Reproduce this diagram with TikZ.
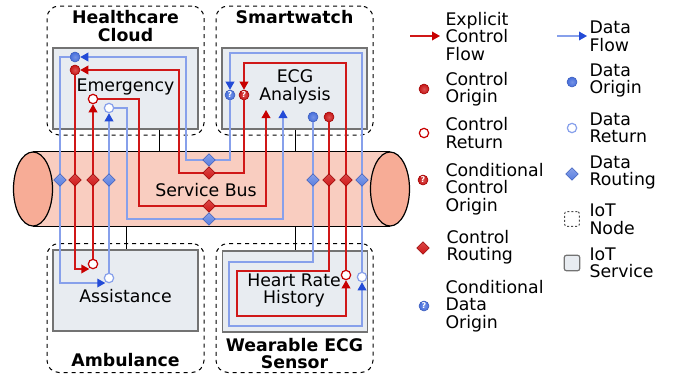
\documentclass[tikz,border=0pt]{standalone}
\usepackage{fontspec}
\setmainfont{DejaVu Sans}
\usetikzlibrary{arrows.meta,shapes.geometric}

\definecolor{ctrlRed}{RGB}{208,24,24}
\definecolor{ctrlTip}{RGB}{200,0,0}
\definecolor{dataBlue}{RGB}{135,160,235}
\definecolor{dataTip}{RGB}{35,75,215}
\definecolor{dataBall}{RGB}{70,110,220}
\definecolor{busBody}{RGB}{249,205,192}
\definecolor{busEnd}{RGB}{247,172,150}
\definecolor{svcFill}{RGB}{232,236,241}
\definecolor{svcDraw}{RGB}{115,115,115}

\tikzset{every picture/.style={line width=0.75pt}}
\tikzset{
  txt/.style={font=\fontsize{13}{13.1}\selectfont, align=center, inner sep=0pt},
  ttl/.style={txt, font=\fontsize{13}{13.1}\selectfont\bfseries},
  lgtxt/.style={txt, align=left, anchor=west},
  iotnode/.style={draw, dashed, rounded corners=9pt, minimum width=117.75pt, minimum height=96.75pt, inner sep=0pt},
  iotsvc/.style={draw=svcDraw, fill=svcFill, line width=1.1pt, minimum width=108.75pt, minimum height=60.75pt, inner sep=0pt},
  busbody/.style={fill=busBody, minimum width=267pt, minimum height=55.5pt, inner sep=0pt},
  busend/.style={draw=black, fill=busEnd, line width=0.9pt},
  ctrl/.style={draw=ctrlRed, line width=1.1pt},
  data/.style={draw=dataBlue, line width=1pt},
  ctrlarr/.style={ctrl, -{Triangle[length=6pt,width=6.5pt,color=ctrlTip]}},
  dataarr/.style={data, -{Triangle[length=6pt,width=6.5pt,color=dataTip]}},
  ctrlorig/.style={circle, inner sep=0pt, minimum size=7.5pt, inner color=ctrlRed!75!white, outer color=ctrlRed!95!black, draw=ctrlTip!80!black, line width=0.4pt},
  dataorig/.style={circle, inner sep=0pt, minimum size=7.5pt, inner color=dataBall!75!white, outer color=dataBall, draw=dataBall!85!black, line width=0.4pt},
  ctrlret/.style={circle, inner sep=0pt, minimum size=7pt, draw=ctrlTip, fill=white, line width=0.9pt},
  dataret/.style={circle, inner sep=0pt, minimum size=7pt, draw=dataBlue, fill=white, line width=0.9pt},
  ctrlcond/.style={ctrlorig, text=white, font=\fontsize{6}{6}\selectfont\bfseries},
  datacond/.style={dataorig, text=white, font=\fontsize{6}{6}\selectfont\bfseries},
  ctrlroute/.style={diamond, inner sep=0pt, minimum size=9.5pt, top color=ctrlRed!80!white, bottom color=ctrlRed, draw=ctrlTip!75!black, line width=0.4pt},
  dataroute/.style={diamond, inner sep=0pt, minimum size=9.5pt, top color=dataBall!65!white, bottom color=dataBall!90!white, draw=dataBall!85!black, line width=0.4pt}
}

\begin{document}
\begin{tikzpicture}[x=0.75pt,y=0.75pt,yscale=-1,xscale=1]
\useasboundingbox (0,0) rectangle (674,375);

%IoT nodes
\node[iotnode] (cloudNode) at (125.5,70.5) {};
\node[iotnode] (watchNode) at (294.5,70.5) {};
\node[iotnode] (ambulanceNode) at (125.5,308) {};
\node[iotnode] (sensorNode) at (294.5,308) {};
\node[ttl] (cloudTtl) at (125.5,26) {Healthcare\\Cloud};
\node[ttl] (watchTtl) at (294.5,17) {Smartwatch};
\node[ttl] (ambulanceTtl) at (125.5,360) {Ambulance};
\node[ttl] (sensorTtl) at (294.5,353.5) {Wearable ECG\\Sensor};

%IoT services
\node[iotsvc] (emergency) at (125.5,88.5) {};
\node[iotsvc] (ecg) at (294.5,88.5) {};
\node[iotsvc] (assistance) at (125.5,290.5) {};
\node[iotsvc] (heartRate) at (295,291.5) {};
\node[txt] (emergencyLbl) at (125.5,87) {Emergency};
\node[txt] (ecgLbl) at (295,87) {ECG\\Analysis};
\node[txt] (assistanceLbl) at (125.5,296) {Assistance};
\node[txt] (heartRateLbl) at (294,290.5) {Heart Rate\\History};

%Service bus
\node[busbody] (bus) at (211.5,189) {};
\draw (bus.north west) -- (bus.north east);
\draw (bus.south west) -- (bus.south east);
\draw[busend] (bus.west) ellipse [x radius=19.5, y radius=37];
\draw[busend] (bus.east) ellipse [x radius=19.5, y radius=37];
\node[txt] (busLbl) at (206,190) {Service Bus};

%Bus links
\draw (emergency.south -| 159,0) -- (bus.north -| 159,0);
\draw (ecg.south -| 295,0) -- (bus.north -| 295,0);
\draw (bus.south -| 126,0) -- (assistance.north -| 126,0);
\draw (bus.south -| 295,0) -- (heartRate.north -| 295,0);

%Origins and returns
\node[dataorig] (emDataOrig) at (75,57) {};
\node[ctrlorig] (emCtrlOrig) at (75,70) {};
\node[ctrlret] (emCtrlRet) at (93,99) {};
\node[dataret] (emDataRet) at (109,108) {};
\node[datacond] (ecgDataCond) at (230,95) {?};
\node[ctrlcond] (ecgCtrlCond) at (244,95) {?};
\node[dataorig] (ecgDataOrig) at (313,117) {};
\node[ctrlorig] (ecgCtrlOrig) at (329,117) {};
\coordinate (ecgCtrlIn) at (266,110);
\coordinate (ecgDataIn) at (283,110);
\node[ctrlret] (asCtrlRet) at (93,264) {};
\node[dataret] (asDataRet) at (109,278) {};
\node[ctrlret] (hrCtrlRet) at (346,275) {};
\node[dataret] (hrDataRet) at (362,277) {};

%Routing points on the bus
\coordinate (dL1) at (60,180);
\coordinate (cL1) at (75,180);
\coordinate (cL2) at (93,180);
\coordinate (dL2) at (109,180);
\coordinate (dR1) at (313,180);
\coordinate (cR1) at (329,180);
\coordinate (cR2) at (346,180);
\coordinate (dR2) at (362,180);
\coordinate (dM1) at (209,160);
\coordinate (cM1) at (209,173);
\coordinate (cM2) at (209,206);
\coordinate (dM2) at (209,219);

%Data flow
\draw[dataarr] (ecgDataOrig) -- (dR1) -- (313,262) -| (229,326) -| (hrDataRet);
\draw[dataarr] (hrDataRet) -- (dR2) -- (362,53) -| (ecgDataCond);
\draw[dataarr] (ecgDataCond) |- (dM1) -- (186,160) |- (emDataOrig);
\draw[dataarr] (emDataOrig) -| (dL1) -- (60,283) -- (asDataRet.south west |- 0,283);
\draw[dataarr] (asDataRet) -- (dL2) -- (emDataRet);
\draw[dataarr] (emDataRet) -| (127,219) -- (dM2) -| (ecgDataIn);

%Control flow
\draw[ctrlarr] (ecgCtrlOrig) -- (cR1) -- (329,271) -| (237,316) -| (hrCtrlRet);
\draw[ctrlarr] (hrCtrlRet) -- (cR2) -- (346,63) -| (ecgCtrlCond);
\draw[ctrlarr] (ecgCtrlCond) |- (cM1) -- (179,173) |- (emCtrlOrig);
\draw[ctrlarr] (emCtrlOrig) -- (cL1) -- (75,269) -- (asCtrlRet.south west |- 0,269);
\draw[ctrlarr] (asCtrlRet) -- (cL2) -- (emCtrlRet);
\draw[ctrlarr] (emCtrlRet) -| (139,206) -- (cM2) -| (ecgCtrlIn);

%Routing diamonds
\node[dataroute] (routeDL1) at (dL1) {};
\node[ctrlroute] (routeCL1) at (cL1) {};
\node[ctrlroute] (routeCL2) at (cL2) {};
\node[dataroute] (routeDL2) at (dL2) {};
\node[dataroute] (routeDR1) at (dR1) {};
\node[ctrlroute] (routeCR1) at (cR1) {};
\node[ctrlroute] (routeCR2) at (cR2) {};
\node[dataroute] (routeDR2) at (dR2) {};
\node[dataroute] (routeDM1) at (dM1) {};
\node[ctrlroute] (routeCM1) at (cM1) {};
\node[ctrlroute] (routeCM2) at (cM2) {};
\node[dataroute] (routeDM2) at (dM2) {};

%Legend
\coordinate (lgCtrlFlow) at (410,36);
\coordinate (lgDataFlow) at (557,36);
\node[lgtxt] (lgCtrlFlowTxt) at (445,36.5) {Explicit\\Control\\Flow};
\node[lgtxt] (lgDataFlowTxt) at (589,36.5) {Data\\Flow};
\draw[ctrlarr] (lgCtrlFlow) -- ([xshift=-3.75pt]lgCtrlFlowTxt.west |- lgCtrlFlow);
\draw[dataarr] (lgDataFlow) -- ([xshift=-1.5pt]lgDataFlowTxt.west |- lgDataFlow);

\node[ctrlorig] (lgCtrlOrig) at (424,89) {};
\node[ctrlret] (lgCtrlRet) at (424,133) {};
\node[ctrlcond] (lgCtrlCond) at (423,180) {?};
\node[ctrlroute] (lgCtrlRoute) at (423,248) {};
\node[datacond] (lgDataCond) at (424,306) {?};
\node[lgtxt] (lgCtrlOrigTxt) at (445,89) {Control\\Origin};
\node[lgtxt] (lgCtrlRetTxt) at (445,133) {Control\\Return};
\node[lgtxt] (lgCtrlCondTxt) at (445,189) {Conditional\\Control\\Origin};
\node[lgtxt] (lgCtrlRouteTxt) at (446,247) {Control\\Routing};
\node[lgtxt] (lgDataCondTxt) at (445,306) {Conditional\\Data\\Origin};

\node[dataorig] (lgDataOrig) at (572,82) {};
\node[dataret] (lgDataRet) at (572,128) {};
\node[dataroute] (lgDataRoute) at (572,174) {};
\node[draw=black!70, dash pattern=on 1.5pt off 1.5pt, rounded corners=1.5pt, minimum size=11pt, inner sep=0pt] (lgIotNode) at (572,219) {};
\node[iotsvc, minimum width=11.5pt, minimum height=11.5pt, rounded corners=1.5pt, line width=0.9pt] (lgIotSvc) at (572,263) {};
\node[lgtxt] (lgDataOrigTxt) at (589,80.5) {Data\\Origin};
\node[lgtxt] (lgDataRetTxt) at (589,128) {Data\\Return};
\node[lgtxt] (lgDataRouteTxt) at (589,172.5) {Data\\Routing};
\node[lgtxt] (lgIotNodeTxt) at (589,219.5) {IoT\\Node};
\node[lgtxt] (lgIotSvcTxt) at (589,263) {IoT\\Service};
\end{tikzpicture}
\end{document}
